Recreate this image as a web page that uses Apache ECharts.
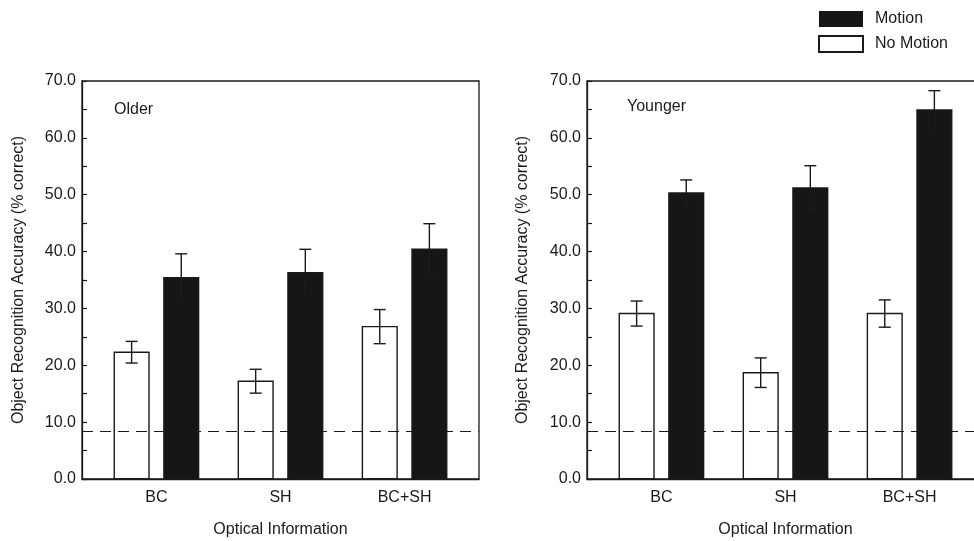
<!DOCTYPE html>
<html>
<head>
<meta charset="utf-8">
<script src="https://cdn.jsdelivr.net/npm/echarts@6/dist/echarts.min.js"></script>
<style>html,body{margin:0;padding:0;background:#fff}#c{width:974px;height:541px}</style>
</head>
<body>
<div id="c"></div>
<script>
var categories = ['BC', 'SH', 'BC+SH'];
var panels = ['Older', 'Younger'];
var olderMotion = [35.4, 36.3, 40.4];
var olderMotionErr = [4.2, 4.1, 4.5];
var olderNoMotion = [22.3, 17.2, 26.8];
var olderNoMotionErr = [1.9, 2.1, 3.0];
var youngerMotion = [50.3, 51.2, 64.9];
var youngerMotionErr = [2.3, 3.9, 3.4];
var youngerNoMotion = [29.1, 18.7, 29.1];
var youngerNoMotionErr = [2.2, 2.6, 2.4];
var chanceLevel = 8.33;
var yTicks = [0, 10, 20, 30, 40, 50, 60, 70];

var FONT = 'Liberation Sans, Arial, Helvetica, sans-serif';
var INK = '#1a1a1a';
var FS = 16;

function toData(vals, errs) {
  return vals.map(function (v, i) { return [i + 1, v, errs[i]]; });
}

function makeRender(offset, filled) {
  return function (params, api) {
    var x = api.value(0), v = api.value(1), e = api.value(2);
    var half = 0.14;
    var p1 = api.coord([x + offset - half, v]);
    var p2 = api.coord([x + offset + half, 0]);
    var c = api.coord([x + offset, v]);
    var top = api.coord([x + offset, v + e]);
    var bot = api.coord([x + offset, v - e]);
    var cap = 6;
    var lw = 1.4;
    var children = [
      { type: 'rect', shape: { x: p1[0], y: p1[1], width: p2[0] - p1[0], height: p2[1] - p1[1] },
        style: { fill: filled ? '#161616' : 'rgba(0,0,0,0)', stroke: INK, lineWidth: lw } },
      { type: 'line', shape: { x1: c[0], y1: top[1], x2: c[0], y2: bot[1] }, style: { stroke: INK, lineWidth: lw } },
      { type: 'line', shape: { x1: c[0] - cap, y1: top[1], x2: c[0] + cap, y2: top[1] }, style: { stroke: INK, lineWidth: lw } },
      { type: 'line', shape: { x1: c[0] - cap, y1: bot[1], x2: c[0] + cap, y2: bot[1] }, style: { stroke: INK, lineWidth: lw } }
    ];
    return { type: 'group', children: children };
  };
}

var grids = [
  { left: 82, top: 81, width: 397, height: 398, show: true, borderColor: INK, borderWidth: 1.3, backgroundColor: 'transparent', outerBoundsMode: 'none', containLabel: false },
  { left: 587, top: 81, width: 397, height: 398, show: true, borderColor: INK, borderWidth: 1.3, backgroundColor: 'transparent', outerBoundsMode: 'none', containLabel: false }
];

function xAxisFor(i) {
  return {
    type: 'value', gridIndex: i, min: 0.4, max: 3.6,
    name: 'Optical Information', nameLocation: 'middle', nameGap: 43,
    nameTextStyle: { fontFamily: FONT, fontSize: FS, color: INK },
    axisLine: { show: true, lineStyle: { color: INK, width: 1.3 } },
    axisTick: { show: false },
    splitLine: { show: false },
    axisLabel: {
      customValues: [1, 2, 3],
      formatter: function (v) { return categories[Math.round(v) - 1] || ''; },
      fontFamily: FONT, fontSize: FS, color: INK, margin: 11
    }
  };
}

function yAxisFor(i, gap) {
  return {
    type: 'value', gridIndex: i, min: 0, max: 70, interval: 10,
    name: 'Object Recognition Accuracy (% correct)', nameLocation: 'middle', nameGap: gap,
    nameTextStyle: { fontFamily: FONT, fontSize: FS, color: INK },
    axisLine: { show: true, lineStyle: { color: INK, width: 1.3 } },
    axisTick: { show: true, inside: true, length: 5, lineStyle: { color: INK, width: 1.2 } },
    minorTick: { show: true, splitNumber: 2, length: 5, lineStyle: { color: INK, width: 1.2 } },
    splitLine: { show: false },
    axisLabel: {
      customValues: yTicks,
      formatter: function (v) { return v.toFixed(1); },
      fontFamily: FONT, fontSize: FS, color: INK, margin: 6
    }
  };
}

function series(name, i, vals, errs, filled) {
  var s = {
    name: name, type: 'custom', xAxisIndex: i, yAxisIndex: i,
    renderItem: makeRender(filled ? 0.2 : -0.2, filled),
    itemStyle: filled ? { color: '#161616' } : { color: '#fff', borderColor: INK, borderWidth: 1.2 },
    data: toData(vals, errs),
    z: filled ? 3 : 2,
    silent: true
  };
  if (!filled) {
    s.markLine = {
      silent: true, symbol: 'none', label: { show: false },
      lineStyle: { type: [11, 7], color: INK, width: 1.2 },
      data: [{ yAxis: chanceLevel }],
      z: 1
    };
  }
  return s;
}

var chart = echarts.init(document.getElementById('c'), null, { renderer: 'canvas' });
chart.setOption({
  backgroundColor: '#fff',
  animation: false,
  title: [
    { text: panels[0], left: 109, top: 97, textStyle: { fontFamily: FONT, fontSize: FS, fontWeight: 'normal', color: INK } },
    { text: panels[1], left: 622, top: 94, textStyle: { fontFamily: FONT, fontSize: FS, fontWeight: 'normal', color: INK } }
  ],
  legend: {
    orient: 'vertical', left: 813, top: 6,
    itemWidth: 44, itemHeight: 16, itemGap: 8,
    icon: 'rect',
    data: ['Motion', 'No Motion'],
    textStyle: { fontFamily: FONT, fontSize: FS, color: INK, padding: [0, 0, 0, 7] },
    selectedMode: false
  },
  grid: grids,
  xAxis: [xAxisFor(0), xAxisFor(1)],
  yAxis: [yAxisFor(0, 55), yAxisFor(1, 56)],
  series: [
    series('No Motion', 0, olderNoMotion, olderNoMotionErr, false),
    series('Motion', 0, olderMotion, olderMotionErr, true),
    series('No Motion', 1, youngerNoMotion, youngerNoMotionErr, false),
    series('Motion', 1, youngerMotion, youngerMotionErr, true)
  ]
});
</script>
</body>
</html>
